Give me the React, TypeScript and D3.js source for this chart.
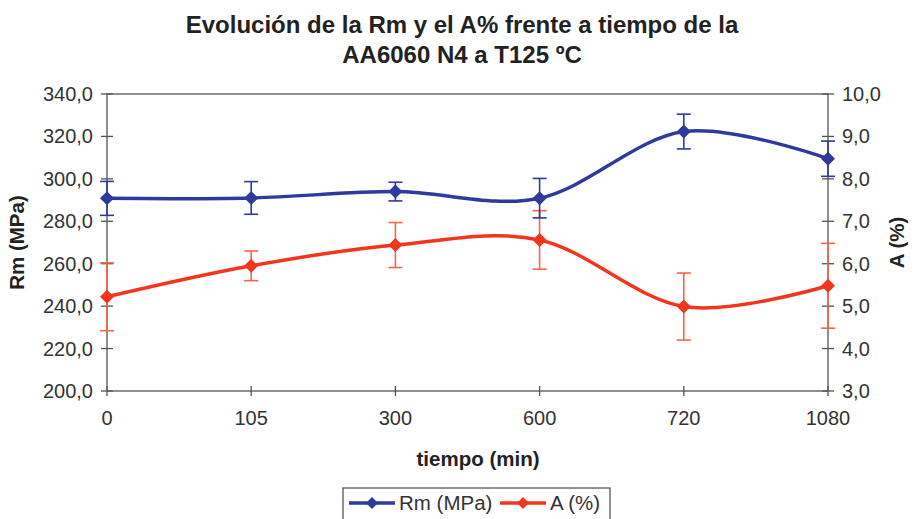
import React from "react";
import * as d3 from "d3";

const categories = ["0", "105", "300", "600", "720", "1080"];
const rmValues = [290.8, 291.0, 294.0, 290.9, 322.3, 309.5];
const rmErrors = [8.0, 7.7, 4.4, 9.3, 8.2, 8.3];
const aValues = [5.22, 5.95, 6.44, 6.56, 4.99, 5.48];
const aErrors = [0.8, 0.35, 0.53, 0.69, 0.79, 1.0];
const leftTicks = [200, 220, 240, 260, 280, 300, 320, 340];
const rightTicks = [3, 4, 5, 6, 7, 8, 9, 10];

const W = 914;
const H = 519;
const L = 107;
const R = 828;
const T = 94;
const B = 391;

const BLUE = "#2E3A9C";
const RED = "#F2361E";
const RED_ERR = "#F4664A";
const AXIS = "#555555";
const TEXT = "#333333";
const FONT = "'Liberation Sans', Arial, sans-serif";

const fmt = (v: number) => v.toFixed(1).replace(".", ",");

function Diamond({ x, y, color, r = 7 }: { x: number; y: number; color: string; r?: number }) {
  return <path d={`M${x},${y - r}L${x + r},${y}L${x},${y + r}L${x - r},${y}Z`} fill={color} />;
}

export default function App() {
  const x = d3.scalePoint<string>().domain(categories).range([L, R]).padding(0);
  const yL = d3.scaleLinear().domain([200, 340]).range([B, T]);
  const yR = d3.scaleLinear().domain([3, 10]).range([B, T]);

  const curve = d3.curveCardinal.tension(0);
  const rmLine = d3
    .line<number>()
    .x((_, i) => x(categories[i])!)
    .y((d) => yL(d))
    .curve(curve);
  const aLine = d3
    .line<number>()
    .x((_, i) => x(categories[i])!)
    .y((d) => yR(d))
    .curve(curve);

  const cap = 7;

  return (
    <svg
      width={W}
      height={H}
      style={{ position: "absolute", left: 0, top: 0, background: "#fff" }}
      fontFamily={FONT}
    >
      <rect x={0} y={0} width={W} height={H} fill="#fff" />
      {/* title */}
      <text x={462} y={33} textAnchor="middle" fontSize={24} fontWeight="bold" fill="#222">
        Evolución de la Rm y el A% frente a tiempo de la
      </text>
      <text x={462} y={63} textAnchor="middle" fontSize={24} fontWeight="bold" fill="#222">
        AA6060 N4 a T125 ºC
      </text>

      {/* frame */}
      <rect x={L} y={T} width={R - L} height={B - T} fill="none" stroke={AXIS} strokeWidth={1.3} />

      {/* left ticks */}
      {leftTicks.map((t) => (
        <g key={"l" + t}>
          <line x1={L - 6} x2={L + 6} y1={yL(t)} y2={yL(t)} stroke={AXIS} strokeWidth={1.3} />
          <text x={L - 14} y={yL(t)} dy="0.35em" textAnchor="end" fontSize={20} fill={TEXT}>
            {fmt(t)}
          </text>
        </g>
      ))}
      {/* right ticks */}
      {rightTicks.map((t) => (
        <g key={"r" + t}>
          <line x1={R - 6} x2={R + 6} y1={yR(t)} y2={yR(t)} stroke={AXIS} strokeWidth={1.3} />
          <text x={R + 14} y={yR(t)} dy="0.35em" textAnchor="start" fontSize={20} fill={TEXT}>
            {fmt(t)}
          </text>
        </g>
      ))}
      {/* x ticks */}
      {categories.map((c) => (
        <g key={"x" + c}>
          <line x1={x(c)!} x2={x(c)!} y1={B - 5} y2={B + 5} stroke={AXIS} strokeWidth={1.3} />
          <text x={x(c)!} y={B + 34} textAnchor="middle" fontSize={20} fill={TEXT}>
            {c}
          </text>
        </g>
      ))}

      {/* axis titles */}
      <text x={478} y={466} textAnchor="middle" fontSize={20.5} fontWeight="bold" fill="#222">
        tiempo (min)
      </text>
      <text
        transform={`translate(24,${(T + B) / 2}) rotate(-90)`}
        textAnchor="middle"
        fontSize={20.5}
        fontWeight="bold"
        fill="#222"
      >
        Rm (MPa)
      </text>
      <text
        transform={`translate(904,${(T + B) / 2}) rotate(-90)`}
        textAnchor="middle"
        fontSize={20.5}
        fontWeight="bold"
        fill="#222"
      >
        A (%)
      </text>

      {/* A series */}
      <path d={aLine(aValues) || ""} fill="none" stroke={RED} strokeWidth={3.5} />
      {aValues.map((v, i) => {
        const cx = x(categories[i])!;
        const y1 = yR(v + aErrors[i]);
        const y2 = yR(v - aErrors[i]);
        return (
          <g key={"ae" + i}>
            <line x1={cx} x2={cx} y1={y1} y2={y2} stroke={RED_ERR} strokeWidth={1.6} />
            <line x1={cx - cap} x2={cx + cap} y1={y1} y2={y1} stroke={RED_ERR} strokeWidth={1.6} />
            <line x1={cx - cap} x2={cx + cap} y1={y2} y2={y2} stroke={RED_ERR} strokeWidth={1.6} />
            <Diamond x={cx} y={yR(v)} color={RED} />
          </g>
        );
      })}

      {/* Rm series */}
      <path d={rmLine(rmValues) || ""} fill="none" stroke={BLUE} strokeWidth={3.5} />
      {rmValues.map((v, i) => {
        const cx = x(categories[i])!;
        const y1 = yL(v + rmErrors[i]);
        const y2 = yL(v - rmErrors[i]);
        return (
          <g key={"re" + i}>
            <line x1={cx} x2={cx} y1={y1} y2={y2} stroke={BLUE} strokeWidth={1.6} />
            <line x1={cx - cap} x2={cx + cap} y1={y1} y2={y1} stroke={BLUE} strokeWidth={1.6} />
            <line x1={cx - cap} x2={cx + cap} y1={y2} y2={y2} stroke={BLUE} strokeWidth={1.6} />
            <Diamond x={cx} y={yL(v)} color={BLUE} />
          </g>
        );
      })}

      {/* legend */}
      <rect x={343} y={488} width={267} height={40} fill="#fff" stroke={AXIS} strokeWidth={1.3} />
      <line x1={349} x2={395} y1={503} y2={503} stroke={BLUE} strokeWidth={3.5} />
      <Diamond x={372} y={503} color={BLUE} r={6} />
      <text x={399} y={503} dy="0.35em" fontSize={20.5} fill={TEXT}>
        Rm (MPa)
      </text>
      <line x1={500} x2={546} y1={503} y2={503} stroke={RED} strokeWidth={3.5} />
      <Diamond x={523} y={503} color={RED} r={6} />
      <text x={550} y={503} dy="0.35em" fontSize={20.5} fill={TEXT}>
        A (%)
      </text>
    </svg>
  );
}
